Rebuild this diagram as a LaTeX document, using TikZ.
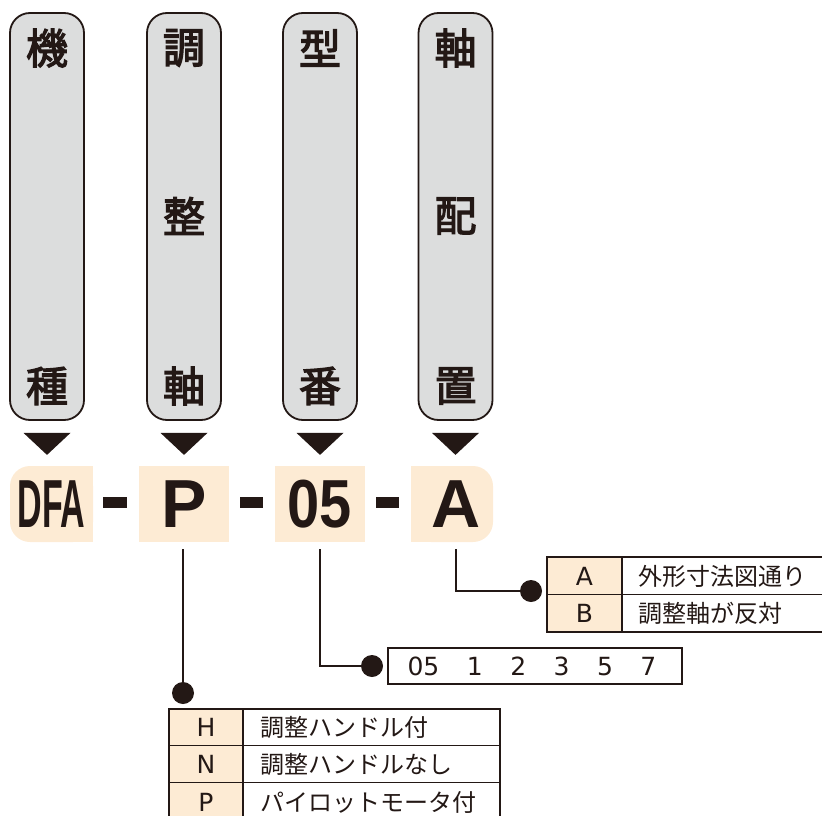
\documentclass[tikz,border=0pt]{standalone}
\usepackage{fontspec}
\usepackage{tikz}
\usetikzlibrary{calc,positioning,backgrounds}
\newfontfamily\jpfont{Noto Sans CJK JP}
\newfontfamily\kanjifont[FakeBold=3]{Noto Sans CJK JP}
\newfontfamily\latinfont{Liberation Sans}
\newfontfamily\keyfont{DejaVu Sans}
\newfontfamily\dfafont[FakeStretch=0.5]{Liberation Sans}
\newfontfamily\numfont[FakeStretch=0.85]{Liberation Sans}
\definecolor{inkcol}{HTML}{231815}
\definecolor{colgray}{HTML}{DCDDDD}
\definecolor{codefill}{HTML}{FDEBD4}
\tikzset{
  colbox/.style={draw=inkcol, fill=colgray, line width=1.8pt, rounded corners=20pt, minimum width=74pt, minimum height=407pt, inner sep=0pt},
  kanji/.style={font=\kanjifont\fontsize{42}{42}\selectfont, text=inkcol, inner sep=0pt},
  codebox/.style={fill=codefill, minimum height=76pt, inner sep=0pt, text=inkcol},
  conn/.style={draw=inkcol, line width=1.8pt},
  dot/.style={circle, fill=inkcol, minimum size=22pt, inner sep=0pt},
  tabline/.style={draw=inkcol, line width=1.8pt},
  keytxt/.style={font=\keyfont\fontsize{25}{25}\selectfont, text=inkcol, inner sep=0pt},
  jptxt/.style={font=\jpfont\fontsize{24}{24}\selectfont, text=inkcol, inner sep=0pt, anchor=west},
}

\begin{document}
\begin{tikzpicture}[x=1pt,y=-1pt]
\useasboundingbox (0,0) rectangle (822,816);

% columns
\node[colbox] (col1) at (47,216.5) {};
\node[colbox] (col2) at (184,216.5) {};
\node[colbox] (col3) at (320,216.5) {};
\node[colbox] (col4) at (455.5,216.5) {};
\node[kanji] (k11) at (47,48) {機};
\node[kanji] (k13) at (47,386) {種};
\node[kanji] (k21) at (184,48) {調};
\node[kanji] (k22) at (184,216) {整};
\node[kanji] (k23) at (184,386) {軸};
\node[kanji] (k31) at (320,48) {型};
\node[kanji] (k33) at (320,386) {番};
\node[kanji] (k41) at (455.5,48) {軸};
\node[kanji] (k42) at (455.5,216) {配};
\node[kanji] (k43) at (455.5,386) {置};
\fill[inkcol] ($(col1.south)+(-23.5,12)$) -- ++(47,0) -- ++(-23.5,22) -- cycle;
\fill[inkcol] ($(col2.south)+(-23.5,12)$) -- ++(47,0) -- ++(-23.5,22) -- cycle;
\fill[inkcol] ($(col3.south)+(-23.5,12)$) -- ++(47,0) -- ++(-23.5,22) -- cycle;
\fill[inkcol] ($(col4.south)+(-23.5,12)$) -- ++(47,0) -- ++(-23.5,22) -- cycle;

% model code
\node[codebox, rounded corners=20pt, minimum width=83pt, font=\dfafont\bfseries\fontsize{68}{68}\selectfont] (cDFA) at (51.5,504) {DFA};
\node[codebox, minimum width=90pt, font=\latinfont\bfseries\fontsize{68}{68}\selectfont] (cP) at (184,504) {P};
\node[codebox, minimum width=90pt, font=\numfont\bfseries\fontsize{68}{68}\selectfont] (c05) at (320,504) {05};
\node[codebox, rounded corners=20pt, minimum width=82pt, font=\latinfont\bfseries\fontsize{68}{68}\selectfont] (cA) at (452,504) {\hspace{8pt}A};
\begin{scope}[on background layer]
\fill[codefill] (cDFA.north) rectangle (cDFA.south east);
\fill[codefill] (cA.north west) rectangle (cA.south);
\end{scope}
\fill[inkcol] (103,497) rectangle (127,508);
\fill[inkcol] (240,497) rectangle (263,508);
\fill[inkcol] (376,497) rectangle (399,508);

% table for A / B
\fill[codefill] (547,557) rectangle (622,632);
\draw[tabline] (547,557) rectangle (830,632);
\draw[tabline] (547,594.5) -- (830,594.5);
\draw[tabline] (622,557) -- (622,632);
\node[keytxt] (keyA) at (584.5,576) {A};
\node[jptxt] (txtA) at (638,576) {外形寸法図通り};
\node[keytxt] (keyB) at (584.5,613) {B};
\node[jptxt] (txtB) at (638,613) {調整軸が反対};

% sizes
\draw[tabline] (388,648) rectangle (682,684);
\node[keytxt] (sizes) at (532,666) {05\hspace{27.5pt}1\hspace{27.5pt}2\hspace{27.5pt}3\hspace{27.5pt}5\hspace{27.5pt}7};

% table for H / N / P
\fill[codefill] (169,709) rectangle (243,830);
\draw[tabline] (169,709) rectangle (500,830);
\draw[tabline] (169,745.5) -- (500,745.5);
\draw[tabline] (169,782.5) -- (500,782.5);
\draw[tabline] (243,709) -- (243,830);
\node[keytxt] (keyH) at (206,727) {H};
\node[jptxt] (txtH) at (260,727) {調整ハンドル付};
\node[keytxt] (keyN) at (206,764) {N};
\node[jptxt] (txtN) at (260,764) {調整ハンドルなし};
\node[keytxt] (keyP) at (206,802) {P};
\node[jptxt] (txtP) at (260,802) {パイロットモータ付};

% leaders
\node[dot] (dotP) at (183,693) {};
\node[dot] (dot05) at (372,666) {};
\node[dot] (dotA) at (531,591) {};
\coordinate (pTop) at ($(cP.south)+(-1,7)$);
\coordinate (nTop) at ($(c05.south)+(0,7)$);
\coordinate (aTop) at ($(cA.south)+(4,7)$);
\draw[conn] (pTop) -- (dotP);
\draw[conn] (nTop) |- (dot05);
\draw[conn] (aTop) |- (dotA);
\end{tikzpicture}
\end{document}
